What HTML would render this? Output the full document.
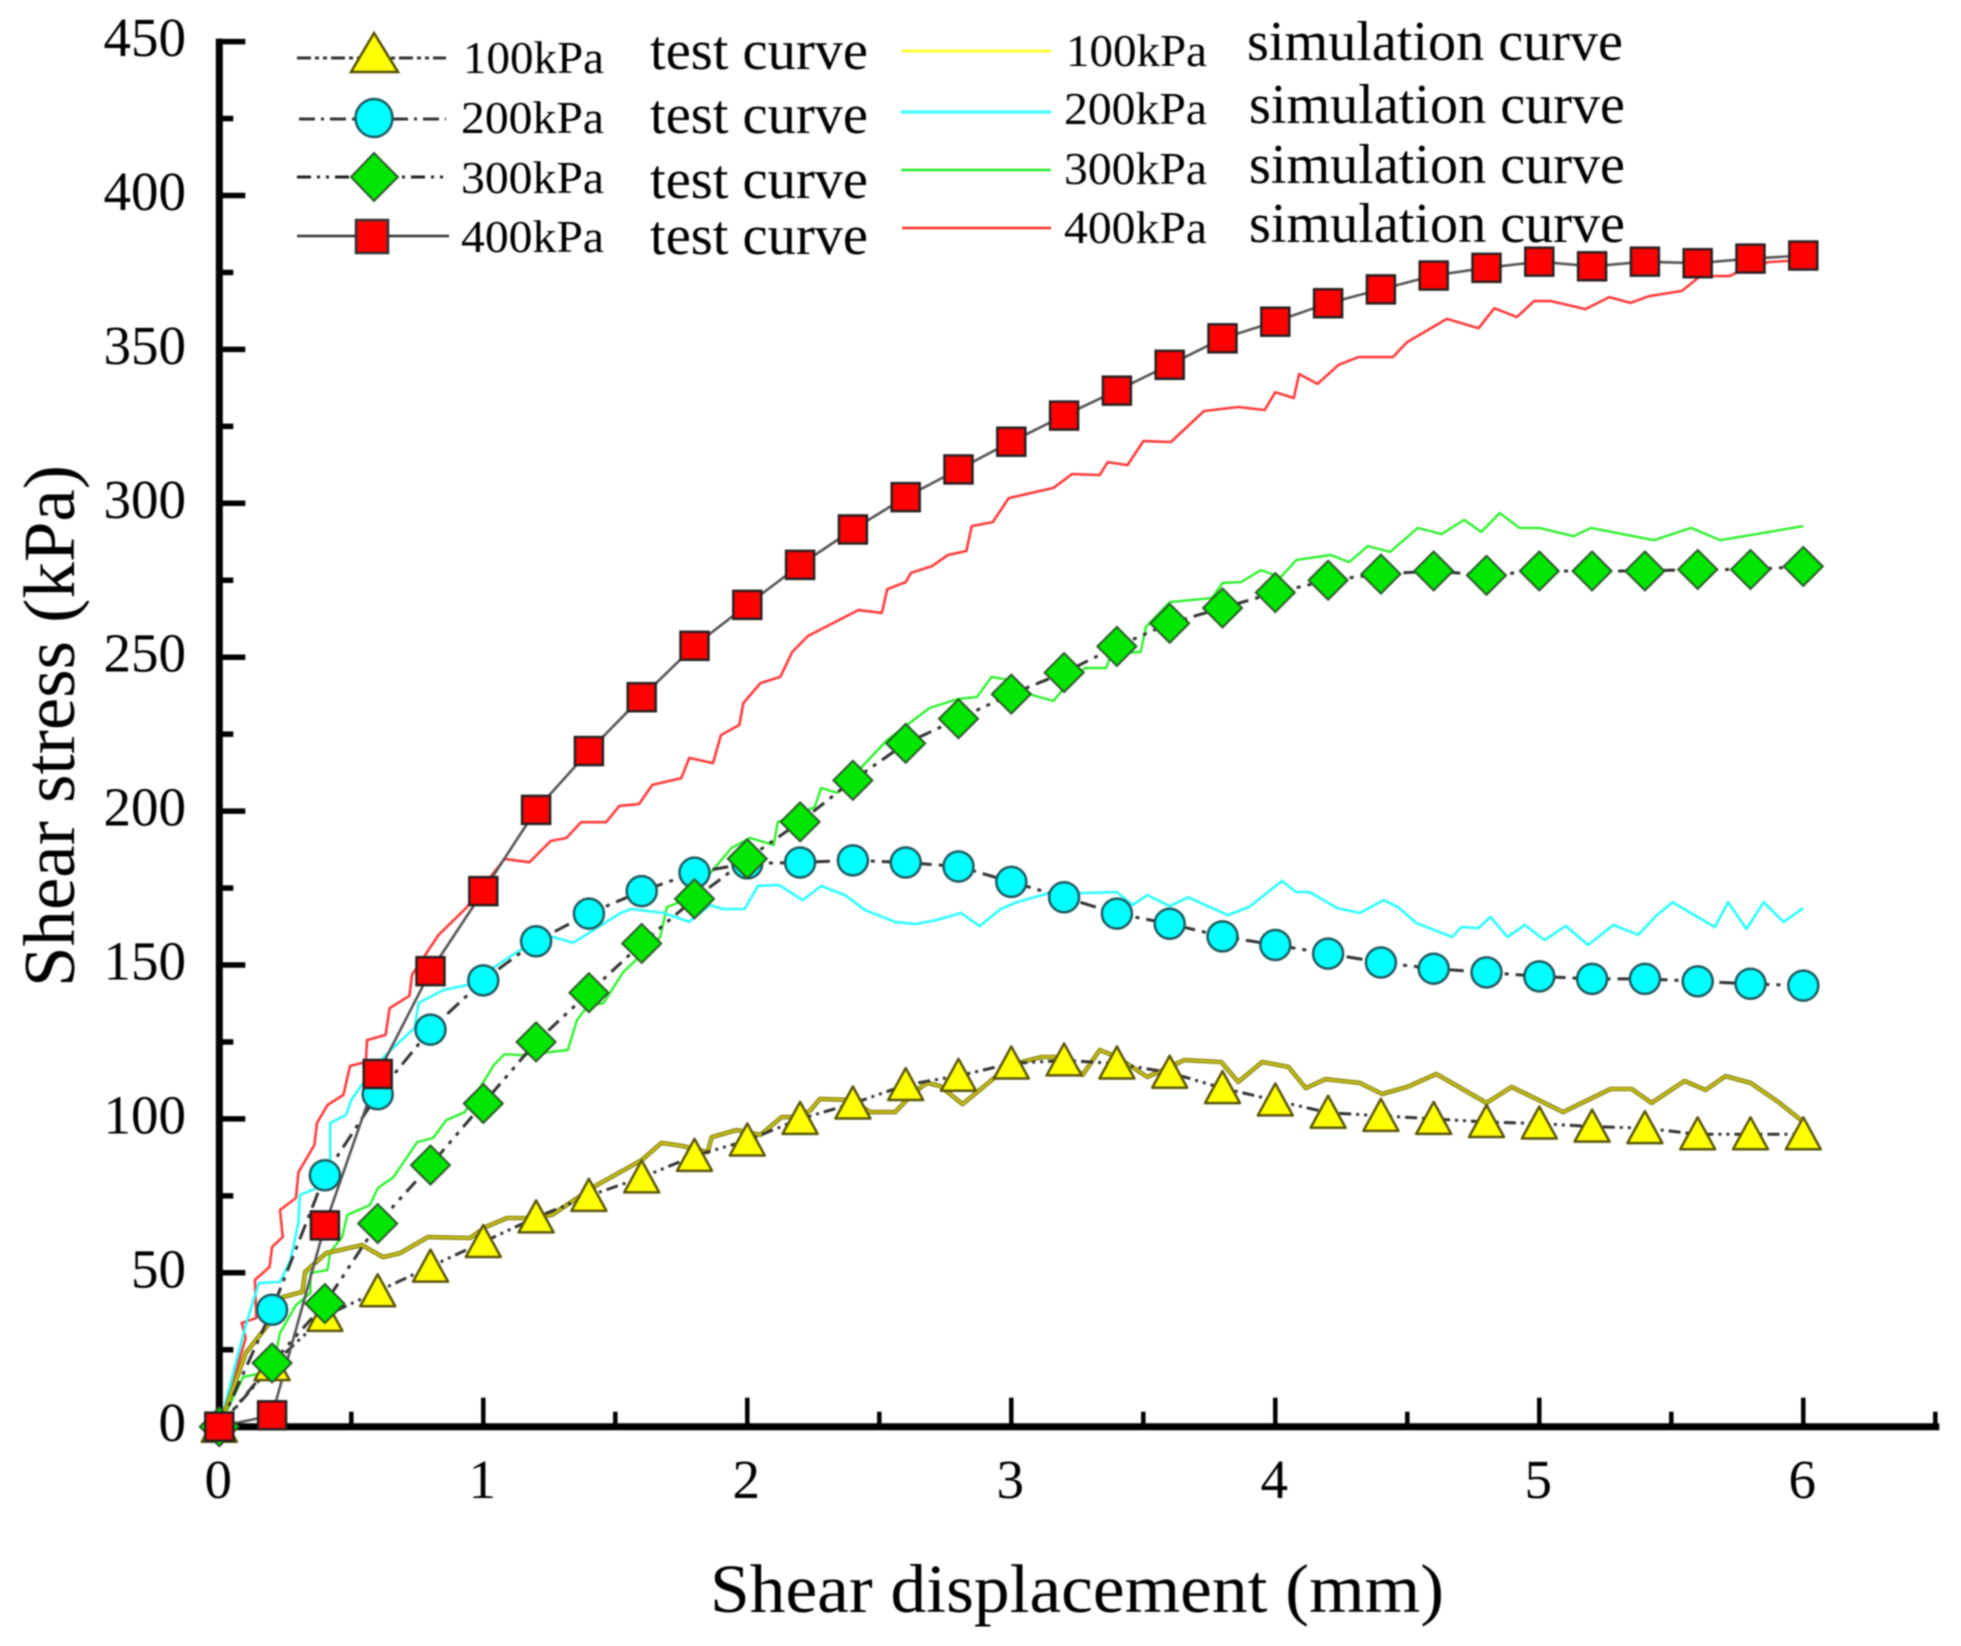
<!DOCTYPE html>
<html lang="en">
<head>
<meta charset="utf-8">
<title>Shear stress vs shear displacement</title>
<style>
html,body{margin:0;padding:0;background:#fff;}
svg{display:block;filter:blur(0.8px);}
text{font-family:"Liberation Serif",serif;fill:#000;}
</style>
</head>
<body>
<svg id="chart" xmlns="http://www.w3.org/2000/svg" width="1961" height="1646" viewBox="0 0 1961 1646">
  <rect x="0" y="0" width="1961" height="1646" fill="#fff"/>
  <g id="sim-lines"></g>
  <g id="test-lines"></g>
  <g id="axes"></g>
  <g id="markers"></g>

  <text transform="translate(74,987) rotate(-90)" font-size="73" textLength="522" lengthAdjust="spacingAndGlyphs">Shear stress (kPa)</text>
  <text x="710" y="1612" font-size="69" textLength="734" lengthAdjust="spacingAndGlyphs">Shear displacement (mm)</text>

  <g>
    <g>
      <line x1="297" y1="58" x2="446" y2="58" stroke="#333" stroke-width="3" stroke-dasharray="14 4 4 4 4 4"/>
      <polygon points="374,33 351,72 398,72" fill="#ff0" stroke="#555000" stroke-width="2.5"/>
      <text x="463" y="73" font-size="46" textLength="141" lengthAdjust="spacingAndGlyphs">100kPa</text>
      <text x="650" y="69" font-size="56" textLength="218" lengthAdjust="spacingAndGlyphs">test curve</text>
    </g>
    <g>
      <line x1="299" y1="119" x2="446" y2="119" stroke="#333" stroke-width="3" stroke-dasharray="16 6 3 6"/>
      <ellipse cx="374" cy="118" rx="18.5" ry="19" fill="#0ff" stroke="#1a5a60" stroke-width="2.5"/>
      <text x="461" y="133" font-size="46" textLength="143" lengthAdjust="spacingAndGlyphs">200kPa</text>
      <text x="650" y="133" font-size="56" textLength="218" lengthAdjust="spacingAndGlyphs">test curve</text>
    </g>
    <g>
      <line x1="297" y1="177" x2="444" y2="177" stroke="#222" stroke-width="3" stroke-dasharray="14 6 3 6 3 6"/>
      <polygon points="374,153 398,177 374,201 351,177" fill="#00e600" stroke="#2a5a2a" stroke-width="2"/>
      <text x="461" y="193" font-size="46" textLength="143" lengthAdjust="spacingAndGlyphs">300kPa</text>
      <text x="650" y="198" font-size="56" textLength="218" lengthAdjust="spacingAndGlyphs">test curve</text>
    </g>
    <g>
      <line x1="297" y1="236" x2="449" y2="236" stroke="#333" stroke-width="2.5"/>
      <rect x="356" y="220" width="32" height="33" fill="#f00" stroke="#333" stroke-width="2.5"/>
      <text x="461" y="252" font-size="46" textLength="143" lengthAdjust="spacingAndGlyphs">400kPa</text>
      <text x="650" y="254" font-size="56" textLength="218" lengthAdjust="spacingAndGlyphs">test curve</text>
    </g>
    <g>
      <line x1="902" y1="51" x2="1051" y2="51" stroke="#ffff33" stroke-width="3"/>
      <text x="1066" y="66" font-size="46" textLength="141" lengthAdjust="spacingAndGlyphs">100kPa</text>
      <text x="1247" y="60" font-size="56" textLength="376" lengthAdjust="spacingAndGlyphs">simulation curve</text>
    </g>
    <g>
      <line x1="901" y1="112" x2="1051" y2="112" stroke="#33ffff" stroke-width="3"/>
      <text x="1064" y="124" font-size="46" textLength="143" lengthAdjust="spacingAndGlyphs">200kPa</text>
      <text x="1249" y="123" font-size="56" textLength="376" lengthAdjust="spacingAndGlyphs">simulation curve</text>
    </g>
    <g>
      <line x1="901" y1="170" x2="1051" y2="170" stroke="#22ee22" stroke-width="2.5"/>
      <text x="1064" y="184" font-size="46" textLength="143" lengthAdjust="spacingAndGlyphs">300kPa</text>
      <text x="1249" y="183" font-size="56" textLength="376" lengthAdjust="spacingAndGlyphs">simulation curve</text>
    </g>
    <g>
      <line x1="902" y1="228" x2="1051" y2="228" stroke="#ff2a2a" stroke-width="2.5"/>
      <text x="1064" y="243" font-size="46" textLength="143" lengthAdjust="spacingAndGlyphs">400kPa</text>
      <text x="1249" y="242" font-size="56" textLength="376" lengthAdjust="spacingAndGlyphs">simulation curve</text>
    </g>
  </g>
</svg>
<script>
var xTickLabels = ['0','1','2','3','4','5','6'];
var yTickLabels = ['0','50','100','150','200','250','300','350','400','450'];

var testDisplacement = [0,0.2,0.4,0.6,0.8,1,1.2,1.4,1.6,1.8,2,2.2,2.4,2.6,2.8,3,3.2,3.4,3.6,3.8,4,4.2,4.4,4.6,4.8,5,5.2,5.4,5.6,5.8,6];
var test100 = [0,20,36,44,52,60,68,75,81,88,93,100,105,111,114,118,119,118,115,110,106,102,101,100,99,98.5,97.5,97,95,95,95];
var test200 = [0,38,81.7,108,129,145,157.7,166.7,174,180,183,183.3,184,183.3,182,177,172,166.7,163.4,159.3,156.5,153.7,150.8,148.8,147.6,146.3,145.5,145.5,144.7,143.9,143.3];
var test300 = [0,20.7,40,66,85,105,125,141,157,171.5,184.5,196.5,210,222,230,238,245,253.5,261,266,271,275,277,278,276.6,278,278,278,278.5,278.5,279.5];
var test400 = [0,3.7,65.4,114.6,148,174,200.4,219.5,237,253.7,267,280,291.5,302,311,320,328.5,336.6,345,353.6,359,365,369.5,374,376.5,378.5,377,378.5,378,379.5,380.5];

var sim100X = [0,0.10,0.19,0.24,0.315,0.325,0.405,0.54,0.62,0.685,0.79,0.95,1.01,1.09,1.18,1.26,1.43,1.60,1.675,1.755,1.85,1.865,1.96,2.05,2.13,2.20,2.24,2.275,2.40,2.465,2.56,2.63,2.68,2.73,2.815,2.94,3.04,3.115,3.19,3.27,3.335,3.40,3.515,3.655,3.795,3.86,3.95,4.05,4.115,4.19,4.32,4.405,4.50,4.61,4.80,4.895,5.09,5.27,5.35,5.425,5.55,5.63,5.705,5.80,5.91,6.0];
var sim100Y = [0,23.9,33.7,42.1,43.8,50.3,56.4,59,55.1,56.4,61.6,61.3,64.9,67.8,67.8,68.8,78.5,86.6,92.2,91.2,89.2,94.1,96.4,94.8,100.6,100.6,102.9,106.5,106.1,102.2,102.2,108.4,111.7,110.7,104.8,113.6,118.5,120.1,120.1,114.3,122.4,120.1,113.6,119.1,118.5,112,118.5,116.9,110,112.9,111.7,108.1,110.4,114.6,105.2,110.4,102.2,109.7,109.7,105.2,112.3,109.4,113.9,111.7,105.2,99];

var sim200X = [0,0.10,0.15,0.23,0.27,0.30,0.305,0.37,0.42,0.42,0.48,0.50,0.545,0.63,0.74,0.755,0.85,0.94,1.14,1.265,1.34,1.52,1.56,1.685,1.78,1.86,1.905,1.99,2.04,2.12,2.21,2.28,2.37,2.445,2.56,2.635,2.715,2.81,2.88,2.96,3.02,3.145,3.28,3.40,3.46,3.515,3.60,3.67,3.82,3.90,4.025,4.08,4.13,4.235,4.32,4.41,4.465,4.535,4.67,4.705,4.77,4.815,4.88,4.945,5.02,5.10,5.185,5.28,5.375,5.445,5.505,5.665,5.715,5.785,5.85,5.925,6.0];
var sim200Y = [0,33,46.7,47,54.2,66.5,75.3,77.5,85,98.7,101.3,106.1,111.7,120.8,129.6,137.7,141.9,143.5,154.9,159.1,157.2,166.9,168.2,166.9,164,169.5,168.2,168.2,175.7,176,171.1,175.7,172.7,167.9,164,163.3,164.6,166.9,162.6,168.2,170.4,173.4,173.4,173.7,169.5,172.7,169.1,172,166.2,168.8,177.3,173.7,173.7,168.5,166.9,171.1,168.8,163.6,159.1,162.3,162,165.6,159.1,163,158.1,162.7,156.5,163,159.8,166.2,170.4,162.3,170.4,161.7,170.4,164,168.5];

var sim300X = [0,0.09,0.16,0.20,0.23,0.29,0.345,0.345,0.41,0.42,0.465,0.485,0.57,0.60,0.66,0.75,0.81,0.86,0.93,1.04,1.08,1.145,1.32,1.355,1.395,1.455,1.53,1.67,1.695,1.785,1.87,1.94,2.01,2.10,2.115,2.255,2.28,2.34,2.53,2.69,2.795,2.87,2.925,2.995,3.08,3.16,3.215,3.28,3.36,3.38,3.49,3.51,3.60,3.76,3.80,3.87,3.945,4.02,4.08,4.21,4.28,4.35,4.435,4.54,4.63,4.715,4.78,4.85,4.925,5.00,5.13,5.195,5.435,5.575,5.685,6.0];
var sim300Y = [0,16.1,17.4,18.4,30.4,39.5,43.4,49.9,50.9,56.8,61.6,68.8,72,77.5,81.1,92.5,93.8,99.6,102.2,117.5,121,120.7,122.4,132.1,136.7,137.6,147.7,159.1,168.8,171.8,180.9,188,191.3,189,196.4,201.3,207.5,205.9,223.1,233.5,236.4,237.1,243.6,242.6,237.7,235.8,241.6,246.5,246.5,251.4,251.7,259.8,267.9,269.2,274.1,274.4,278.3,276,281.6,283.2,280.9,286.1,284.2,292,290,294.6,290.7,296.8,292,292,289.3,292,288,292,288,292.6];

var sim400X = [0,0.10,0.085,0.14,0.135,0.19,0.20,0.24,0.23,0.29,0.30,0.36,0.37,0.41,0.47,0.495,0.555,0.56,0.63,0.645,0.72,0.73,0.83,0.935,1.08,1.175,1.255,1.315,1.37,1.465,1.515,1.59,1.64,1.75,1.78,1.87,1.90,1.97,1.985,2.05,2.125,2.17,2.23,2.42,2.51,2.53,2.60,2.62,2.70,2.76,2.83,2.85,2.93,2.99,3.16,3.23,3.335,3.365,3.44,3.50,3.605,3.73,3.86,3.96,4.00,4.07,4.09,4.16,4.24,4.315,4.445,4.50,4.65,4.77,4.83,4.915,4.98,5.045,5.175,5.265,5.345,5.415,5.54,5.61,5.72,5.785,5.87,6.0];
var sim400Y = [0,28.8,33.7,35.3,47.7,51.9,58.4,61.6,70.4,74.3,82.7,91.5,98.7,104.5,107.8,117.2,118.5,125.6,127.3,136,140,146.8,159.7,168.5,184.4,183.4,190.3,191.3,196.4,196.4,201.7,202.3,208.5,210.7,217.3,215.6,224.7,228,235.1,241.6,243.6,251.7,256.9,265.3,264.4,272.1,274.4,277.4,279.6,283.2,284.5,292.6,293.9,301.7,305,309.5,309.2,313.4,312.4,320.2,319.9,330,331.3,330.3,336.1,334.2,342,338.8,345,347.5,347.5,352.4,359.9,356.9,363.4,360.5,365.7,365.7,363.1,367,365.1,367.3,369,373.8,373.8,376.4,378.4,379];

function X(v){ return 219.3 + v * 264; }
function Y(v){ return 1426.7 - v * 3.078; }

var NS = 'http://www.w3.org/2000/svg';
function mk(tag, parent, attrs){
  var el = document.createElementNS(NS, tag);
  for (var k in attrs) { el.setAttribute(k, attrs[k]); }
  parent.appendChild(el);
  return el;
}
function pts(xs, ys){
  var s = [];
  for (var i = 0; i < xs.length; i++) { s.push(X(xs[i]).toFixed(1) + ',' + Y(ys[i]).toFixed(1)); }
  return s.join(' ');
}

var simLayer = document.getElementById('sim-lines');
var testLayer = document.getElementById('test-lines');
var axisLayer = document.getElementById('axes');
var markerLayer = document.getElementById('markers');
var el;

/* simulation curves */
el = mk('polyline', simLayer, {points: pts(sim400X, sim400Y), fill: 'none', stroke: '#ff3b3b', 'stroke-width': 2.6, 'stroke-linejoin': 'round'});


el = mk('polyline', simLayer, {points: pts(sim300X, sim300Y), fill: 'none', stroke: '#2cf02c', 'stroke-width': 2.4, 'stroke-linejoin': 'round'});


el = mk('polyline', simLayer, {points: pts(sim200X, sim200Y), fill: 'none', stroke: '#2cfdfd', 'stroke-width': 2.6, 'stroke-linejoin': 'round'});


el = mk('polyline', simLayer, {points: pts(sim100X, sim100Y), fill: 'none', stroke: '#8f8a12', 'stroke-width': 4.6, 'stroke-linejoin': 'round'});


el = mk('polyline', simLayer, {points: pts(sim100X, sim100Y), fill: 'none', stroke: '#d8d020', 'stroke-width': 1.4, 'stroke-linejoin': 'round'});



/* test curves */
el = mk('polyline', testLayer, {points: pts(testDisplacement, test100), fill: 'none', stroke: '#333', 'stroke-width': 3, 'stroke-dasharray': '12 5 3 5 3 5'});


el = mk('polyline', testLayer, {points: pts(testDisplacement, test200), fill: 'none', stroke: '#333', 'stroke-width': 3, 'stroke-dasharray': '16 7 4 7'});


el = mk('polyline', testLayer, {points: pts(testDisplacement, test300), fill: 'none', stroke: '#333', 'stroke-width': 3, 'stroke-dasharray': '14 7 4 7 4 7'});


el = mk('polyline', testLayer, {points: pts(testDisplacement, test400), fill: 'none', stroke: '#555', 'stroke-width': 2.6});



/* axes */
el = mk('line', axisLayer, {x1: X(0), y1: Y(450) - 3, x2: X(0), y2: Y(0) + 3, stroke: '#000', 'stroke-width': 7});


el = mk('line', axisLayer, {x1: X(0), y1: Y(0), x2: X(6.5) + 4, y2: Y(0), stroke: '#000', 'stroke-width': 7});



yTickLabels.forEach(function(lab){
  var v = parseFloat(lab);
  var tick = mk('line', axisLayer, {x1: X(0), y1: Y(v), x2: X(0) + 26, y2: Y(v), stroke: '#000', 'stroke-width': 5.5});
  
  
  if (v < 450) {
    var minor = mk('line', axisLayer, {x1: X(0), y1: Y(v + 25), x2: X(0) + 14, y2: Y(v + 25), stroke: '#000', 'stroke-width': 5.5});
    
    
  }
  var t = mk('text', axisLayer, {x: 186, y: Y(v) + 14.5, 'font-size': 55, 'text-anchor': 'end'});
  t.textContent = lab;
  
  
});

xTickLabels.forEach(function(lab){
  var v = parseFloat(lab);
  var tick = mk('line', axisLayer, {x1: X(v), y1: Y(0), x2: X(v), y2: Y(0) - 29, stroke: '#000', 'stroke-width': 4.5});
  
  
  var minor = mk('line', axisLayer, {x1: X(v + 0.5), y1: Y(0), x2: X(v + 0.5), y2: Y(0) - 15, stroke: '#000', 'stroke-width': 4.5});
  
  
  var t = mk('text', axisLayer, {x: X(v) - 1, y: 1498, 'font-size': 55, 'text-anchor': 'middle'});
  t.textContent = lab;
  
  
});

/* markers */
testDisplacement.forEach(function(d, i){
  var cx = X(d), cy = Y(test100[i]);
  var m = mk('polygon', markerLayer, {points: cx + ',' + (cy - 17) + ' ' + (cx + 17.5) + ',' + (cy + 15) + ' ' + (cx - 17.5) + ',' + (cy + 15), fill: '#ff0', stroke: '#5a5608', 'stroke-width': 2.5, 'stroke-linejoin': 'round'});
  
  
});
testDisplacement.forEach(function(d, i){
  var m = mk('circle', markerLayer, {cx: X(d), cy: Y(test200[i]), r: 15, fill: '#0ff', stroke: '#1d5a60', 'stroke-width': 2.5});
  
  
});
testDisplacement.forEach(function(d, i){
  var cx = X(d), cy = Y(test300[i]);
  var m = mk('polygon', markerLayer, {points: cx + ',' + (cy - 19.5) + ' ' + (cx + 19.5) + ',' + cy + ' ' + cx + ',' + (cy + 19.5) + ' ' + (cx - 19.5) + ',' + cy, fill: '#00e600', stroke: '#2a5a2a', 'stroke-width': 2});
  
  
});
testDisplacement.forEach(function(d, i){
  var m = mk('rect', markerLayer, {x: X(d) - 14, y: Y(test400[i]) - 14, width: 28, height: 28, fill: '#f00', stroke: '#2a2020', 'stroke-width': 2.5});
  
  
});
</script>
</body>
</html>
